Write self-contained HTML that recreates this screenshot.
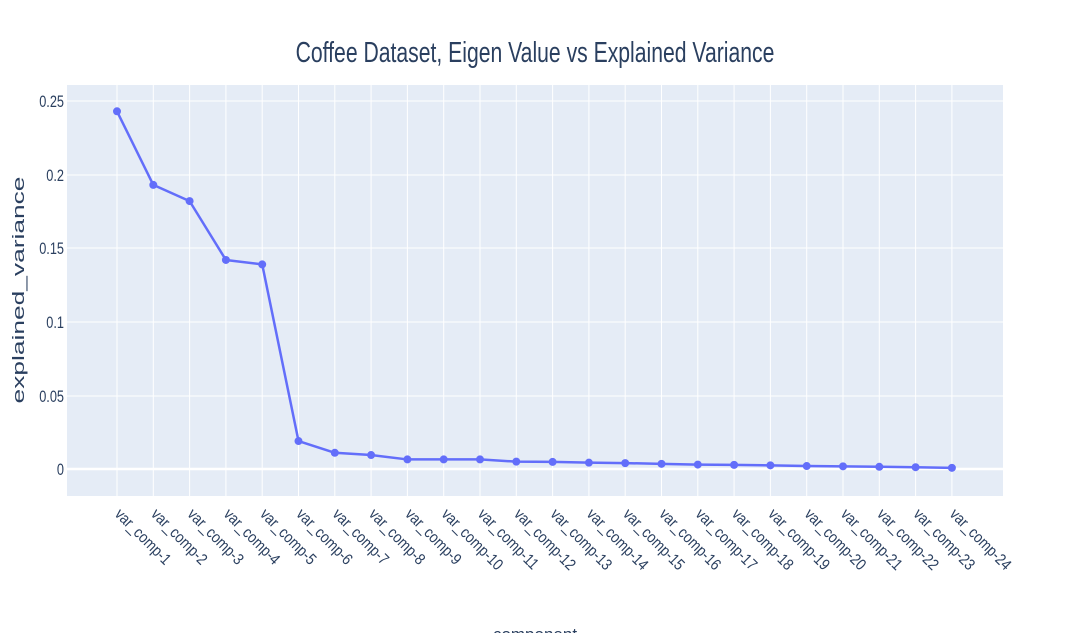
<!DOCTYPE html>
<html><head><style>body{margin:0;background:#fff}svg{display:block}text{font-family:"Liberation Sans",sans-serif;fill:#2a3f5f}</style></head>
<body>
<svg width="1069" height="633" xmlns="http://www.w3.org/2000/svg">
<rect x="67" y="85" width="936" height="411" fill="#e5ecf6"/>
<g stroke="#fff" stroke-width="1">
<line x1="67" x2="1003" y1="101" y2="101"/><line x1="67" x2="1003" y1="175" y2="175"/><line x1="67" x2="1003" y1="248" y2="248"/><line x1="67" x2="1003" y1="322" y2="322"/><line x1="67" x2="1003" y1="396" y2="396"/>
</g>
<line x1="67" x2="1003" y1="469" y2="469" stroke="#fff" stroke-width="2.5"/>
<g id="vg" stroke="#fff" stroke-width="1"></g>
<text x="535" y="62" font-size="29" text-anchor="middle" transform="translate(535,0) scale(0.73,1) translate(-535,0)">Coffee Dataset, Eigen Value vs Explained Variance</text>
<g font-size="17" text-anchor="end">
<text x="64" y="107" transform="translate(64,0) scale(0.75,1) translate(-64,0)">0.25</text>
<text x="64" y="181" transform="translate(64,0) scale(0.75,1) translate(-64,0)">0.2</text>
<text x="64" y="254" transform="translate(64,0) scale(0.75,1) translate(-64,0)">0.15</text>
<text x="64" y="328" transform="translate(64,0) scale(0.75,1) translate(-64,0)">0.1</text>
<text x="64" y="402" transform="translate(64,0) scale(0.75,1) translate(-64,0)">0.05</text>
<text x="64" y="475" transform="translate(64,0) scale(0.75,1) translate(-64,0)">0</text>
</g>
<text transform="translate(24,290) rotate(-90) scale(1.55,1)" font-size="17" text-anchor="middle">explained_variance</text>
<text x="535" y="640" font-size="17" text-anchor="middle">component</text>
<g id="xl" font-size="16"></g>
<polyline id="ln" fill="none" stroke="#636efa" stroke-width="2.5" stroke-linejoin="round"/>
<g id="mk" fill="#636efa"></g>
</svg>
<script>
var v=[0.243,0.193,0.182,0.142,0.139,0.019,0.011,0.0095,0.0065,0.0065,0.0065,0.005,0.0048,0.0043,0.004,0.0035,0.003,0.0028,0.0025,0.002,0.0018,0.0015,0.0012,0.0008];
var ns="http://www.w3.org/2000/svg",pts=[],vg=document.getElementById('vg'),xl=document.getElementById('xl'),mk=document.getElementById('mk');
v.forEach(function(d,i){var x=117+i*36.3,y=469-d*1472;pts.push(x+','+y);
var l=document.createElementNS(ns,'line');l.setAttribute('x1',x);l.setAttribute('x2',x);l.setAttribute('y1',85);l.setAttribute('y2',496);vg.appendChild(l);
var c=document.createElementNS(ns,'circle');c.setAttribute('cx',x);c.setAttribute('cy',y);c.setAttribute('r',4);mk.appendChild(c);
var t=document.createElementNS(ns,'text');t.setAttribute('transform','translate('+(x-3)+',515) rotate(45) scale(0.85,1)');t.textContent='var_comp-'+(i+1);xl.appendChild(t);});
document.getElementById('ln').setAttribute('points',pts.join(' '));
</script>
</body></html>
